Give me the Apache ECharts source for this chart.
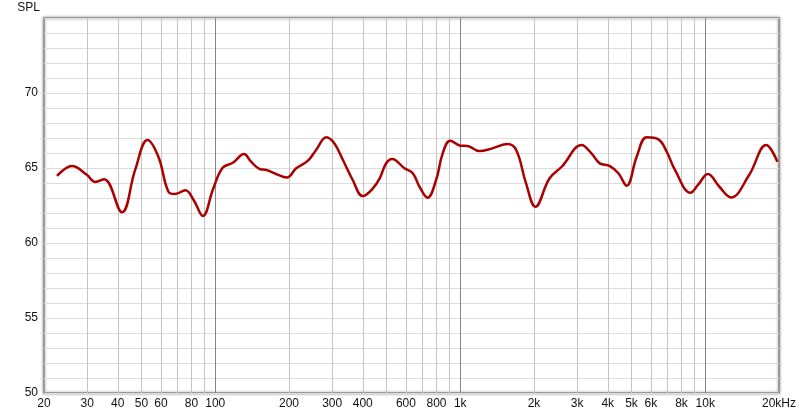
<!DOCTYPE html>
<html><head><meta charset="utf-8">
<script src="https://cdn.jsdelivr.net/npm/echarts@6/dist/echarts.min.js"></script>
<style>html,body{margin:0;padding:0;background:#fff}#c{width:800px;height:417px}</style>
</head><body><div id="c"></div>
<script>
const freqs = [22.6,26,29.9,32.4,35.2,41.6,47.1,52.9,58.6,64.4,68.6,75.5,81.6,89,98,107,118,131,140,152,162,177,196,214,239,258,284,306,332,364,400,440,469,498,527,592,640,682,736,797,848,910,1000,1070,1194,1352,1560,1692,1856,2026,2312,2600,3130,3430,3710,4080,4420,4776,5250,5770,6440,6960,7520,8700,9340,10250,11420,12740,15100,17720,19700];
const spl = [64.47,65.13,64.55,64.07,64.25,62.05,64.87,66.87,65.75,63.42,63.27,63.51,62.87,61.8,63.6,65.0,65.35,65.93,65.42,64.93,64.87,64.6,64.36,64.98,65.49,66.2,67.05,66.65,65.53,64.2,63.13,63.64,64.31,65.3,65.6,64.98,64.65,63.75,63.02,64.2,65.98,66.82,66.49,66.47,66.13,66.31,66.6,66.2,63.98,62.42,64.3,65.1,66.53,65.98,65.31,65.13,64.65,63.82,65.75,67.05,66.91,66.09,64.87,63.35,63.87,64.6,63.75,63.04,64.53,66.53,65.42];
const xTickLabels = [20,30,40,50,60,80,100,200,300,400,600,800,1000,2000,3000,4000,5000,6000,8000,10000,20000];
const minorGrid = [30,40,50,60,70,80,90,200,300,400,500,600,700,800,900,2000,3000,4000,5000,6000,7000,8000,9000];
const decadeGrid = [100,1000,10000];
const yLabels = [50,55,60,65,70];

const chart = echarts.init(document.getElementById('c'), null, {renderer:'canvas'});
const fmt = v => v === 20000 ? '20kHz' : (v >= 1000 ? (v/1000) + 'k' : String(v));
chart.setOption({
  animation:false,
  grid:{left:44,right:21,top:18,bottom:24,show:true,borderColor:'#9a9a9a',borderWidth:2,
        shadowColor:'rgba(0,0,0,0.35)',shadowBlur:3,shadowOffsetX:0,shadowOffsetY:0,backgroundColor:'#fff'},
  xAxis:{type:'log',logBase:10,min:20,max:20000,
    axisLine:{show:false},axisTick:{show:false},splitLine:{show:false},
    axisLabel:{customValues:xTickLabels,formatter:fmt,color:'#111',fontFamily:'Liberation Sans',fontSize:12,margin:5,showMinLabel:true,showMaxLabel:true,hideOverlap:false}
  },
  yAxis:{type:'value',min:50,max:75,interval:1,
    name:'SPL',nameLocation:'end',nameGap:4,nameTextStyle:{color:'#111',fontFamily:'Liberation Sans',fontSize:12,align:'right',padding:[0,4,0,0]},
    axisLine:{show:false},axisTick:{show:false},
    splitLine:{show:true,lineStyle:{color:'#dcdcdc',width:1}},
    axisLabel:{color:'#111',fontFamily:'Liberation Sans',fontSize:12,margin:6,
      formatter:v => yLabels.indexOf(v) >= 0 ? String(v) : ''}
  },
  series:[
    {type:'line',data:[],silent:true,
     markLine:{silent:true,symbol:'none',label:{show:false},
       data:minorGrid.map(f=>({xAxis:f,lineStyle:{color:'#c4c4c4',width:1,type:'solid'}}))
         .concat(decadeGrid.map(f=>({xAxis:f,lineStyle:{color:'#858585',width:1,type:'solid'}})))}
    },
    {type:'line',data:freqs.map((f,i)=>[f,spl[i]]),smooth:0.4,showSymbol:false,
     lineStyle:{color:'#aa0000',width:2.5},z:5}
  ]
});
</script></body></html>
